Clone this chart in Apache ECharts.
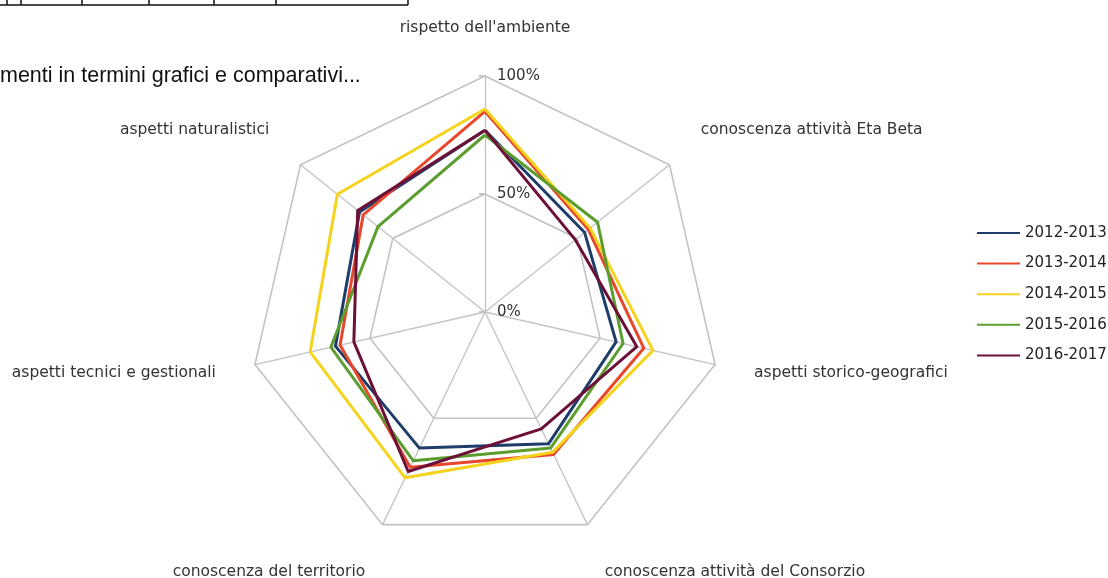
<!DOCTYPE html>
<html><head><meta charset="utf-8">
<script src="https://cdn.jsdelivr.net/npm/echarts@6/dist/echarts.min.js"></script>
<style>html,body{margin:0;padding:0;background:#fff}#c{width:1108px;height:578px}</style>
</head><body><div id="c"></div>
<script>
// axes, counter-clockwise from the top (ECharts radar order)
const indicatorNames = ["rispetto dell'ambiente", "aspetti naturalistici", "aspetti tecnici e gestionali",
  "conoscenza del territorio", "conoscenza attività del Consorzio", "aspetti storico-geografici",
  "conoscenza attività Eta Beta"];
const seriesNames = ['2012-2013', '2013-2014', '2014-2015', '2015-2016', '2016-2017'];
const v2012_2013 = [77, 68, 65, 64, 62, 57, 54];
const v2013_2014 = [85, 66, 63, 73, 67, 69, 56];
const v2014_2015 = [86, 80, 76, 78, 66, 73, 57];
const v2015_2016 = [75, 58, 67, 70, 64, 60, 61];
const v2016_2017 = [77, 69, 57, 75, 55, 66, 49];
const allValues = [v2012_2013, v2013_2014, v2014_2015, v2015_2016, v2016_2017];
const colors = ['#1f3d6b', '#e8472b', '#f5d31c', '#5b9e2f', '#6d1038'];
const axisMax = 100, axisStep = 50;

const chart = echarts.init(document.getElementById('c'), null, {renderer: 'canvas'});
const FONT = 'DejaVu Sans';
const gridColor = '#c3c3c3';
const nameStyle = {color: '#333', fontSize: 15.5, fontFamily: FONT};

chart.setOption({
  animation: false,
  textStyle: {fontFamily: FONT},
  legend: {
    orient: 'vertical', left: 972, top: 219,
    data: seriesNames,
    icon: 'rect', itemWidth: 43, itemHeight: 2,
    itemGap: 12.6,
    textStyle: {fontSize: 15, color: '#222', lineHeight: 18, fontFamily: FONT}
  },
  radar: {
    center: [485, 312], radius: 236,
    shape: 'polygon', splitNumber: 2,
    startAngle: 90,
    indicator: indicatorNames.map(n => ({name: n, min: 0, max: axisMax})),
    axisName: Object.assign({}, nameStyle, {
      formatter: function (name) {
        const i = indicatorNames.indexOf(name);
        if (i === 1 || i === 6) return '{up|' + name + '}';
        if (i === 3 || i === 4) return '{down|' + name + '}';
        return name;
      },
      rich: {
        up: Object.assign({}, nameStyle, {padding: [0, 0, 20, 0]}),
        down: Object.assign({}, nameStyle, {padding: [22, 0, 0, 0]})
      }
    }),
    nameGap: 40,
    axisLine: {lineStyle: {color: gridColor, width: 1.3}},
    splitLine: {lineStyle: {color: gridColor, width: 1.6}},
    splitArea: {show: false},
    axisTick: {show: false},
    axisLabel: {show: false}
  },
  polar: {center: [485, 312], radius: 236},
  angleAxis: {type: 'value', startAngle: 90, min: 0, max: 360, show: false},
  radiusAxis: {
    type: 'value', min: 0, max: axisMax, interval: axisStep,
    axisLine: {show: false},
    axisTick: {show: true, length: 6, lineStyle: {color: gridColor, width: 2}},
    splitLine: {show: false},
    axisLabel: {show: true, formatter: '{value}%', fontSize: 15, color: '#333', margin: -12, align: 'left', fontFamily: FONT}
  },
  series: [{
    type: 'radar',
    symbol: 'none',
    data: allValues.map((vals, i) => ({
      name: seriesNames[i], value: vals,
      lineStyle: {color: colors[i], width: 3},
      itemStyle: {color: colors[i]}
    }))
  }],
  graphic: [
    {type: 'line', shape: {x1: 0, y1: 5, x2: 408, y2: 5}, style: {stroke: '#111', lineWidth: 1.5}},
    ...[7, 21, 82, 149, 214, 276, 408].map(x => ({type: 'line', shape: {x1: x, y1: 0, x2: x, y2: 5}, style: {stroke: '#111', lineWidth: 1.5}})),
    {type: 'text', left: 0, top: 65, style: {text: 'menti in termini grafici e comparativi...', font: '21.5px "Liberation Sans"', fill: '#111'}}
  ]
});
</script></body></html>
